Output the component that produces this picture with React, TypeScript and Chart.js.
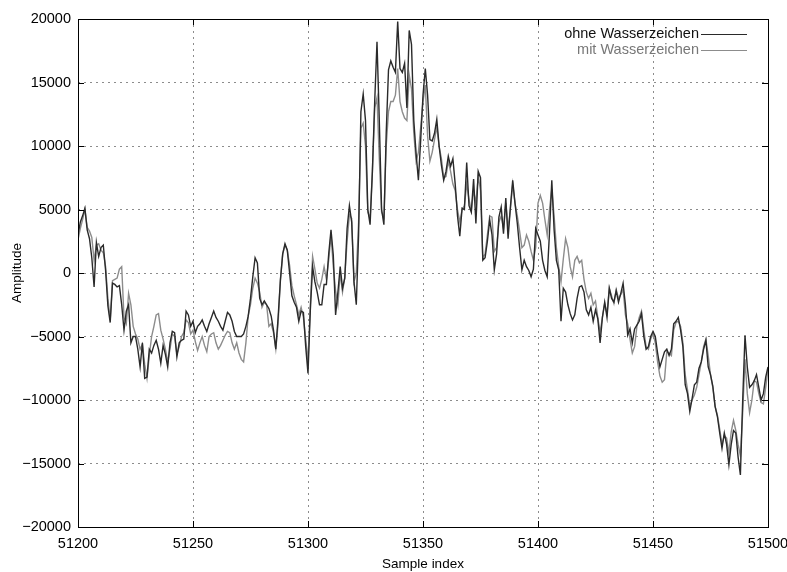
import React, { useEffect, useRef } from "react";
import { Chart, registerables } from "chart.js";

Chart.register(...registerables);

const START_SAMPLE = 51200;

const ohneWasserzeichen = [
  3000, 4000, 4500, 5100, 3400, 2700, 1200, -1100, 2400, 1300,
  2000, 2200, 200, -2600, -3900, -800, -900, -1100, -1000, -2500,
  -4500, -3000, -2500, -5500, -5000, -5000, -6000, -7400, -5500, -8300,
  -8200, -6000, -6300, -5700, -5300, -6000, -7100, -5700, -6400, -7400,
  -5500, -4600, -4700, -6600, -5500, -5300, -5200, -3000, -3300, -4200,
  -3800, -4700, -4200, -4000, -3700, -4200, -4600, -4000, -3500, -3000,
  -3500, -3800, -4200, -4500, -3800, -3100, -3300, -3800, -4600, -5000,
  -5000, -5000, -4800, -4200, -3400, -2000, -300, 1200, 800, -2000,
  -2500, -2200, -2500, -2800, -3400, -4500, -6000, -3500, -600, 1500,
  2300, 1800, 0, -1800, -2300, -2700, -3800, -3000, -3100, -5800,
  -7900, -3000, 500, -700, -1500, -2500, -2500, -900, -900, 1500,
  3400, 1400, -3300, -1500, 500, -1200, -400, 3500, 5300, 4000,
  -700, -2500, 3000, 12700, 14100, 12000, 5000, 3800, 8000, 13500,
  18200, 12000, 5000, 3800, 11000, 16000, 16700, 16200, 15800, 19800,
  16100, 15800, 16500, 13000, 19100, 18000, 12000, 9400, 7300, 10500,
  14000, 16100, 14000, 10500, 10400, 11000, 12100, 10000, 8500, 7300,
  8000, 9200, 8400, 9000, 7000, 4500, 2900, 5100, 5000, 8700,
  5300, 4800, 7400, 3900, 8000, 7500, 1000, 1200, 2500, 4200,
  3000, 250, 1500, 4400, 5200, 3100, 5900, 2700, 5200, 7300,
  5500, 3900, 2000, 250, 1000, 500, 200, -300, 300, 3500,
  3000, 2500, 1000, 200, -300, 3200, 7300, 3400, 1000, 250,
  -3800, -1200, -1500, -2500, -3200, -3700, -3300, -2000, -1100, -1000,
  -1500, -2900, -3300, -2700, -3800, -2900, -3600, -5500, -3500, -2300,
  -3500, -1200, -2000, -2300, -1400, -2300, -1600, -800, -2500, -4900,
  -4400, -5500, -4400, -4100, -3800, -3200, -5000, -6000, -5800, -5000,
  -4600, -5000, -6300, -7400, -6800, -6200, -6000, -6500, -6000, -4000,
  -3800, -3500, -4500, -5800, -8800, -9500, -10900, -9900, -8800, -8600,
  -7500, -7000, -6000, -5300, -7400, -8000, -8900, -10500, -11300, -12600,
  -13800, -12600, -13500, -15100, -13500, -12400, -12600, -14500, -15900, -10000,
  -4900, -7400, -9000, -8800, -8500, -8000, -9000, -10000, -9500, -8200, -7400,
];

const mitWasserzeichen = [
  2600, 3500, 4200, 5000, 3600, 3300, 2800, 1000, 2200, 2300,
  1800, 1600, 500, -2000, -3700, -600, -500, -400, 300, 500,
  -3500, -4000, -1600, -2500, -4200, -4800, -5200, -6000, -5600, -7200,
  -8300, -6500, -5000, -4200, -3300, -3200, -4500, -5200, -6000, -7000,
  -6000, -4800, -5000, -6400, -5800, -5000, -4700, -3700, -3900, -4800,
  -4500, -5400, -6100, -5500, -5000, -5700, -6200, -5000, -4800, -4700,
  -5500, -6000, -5700, -5300, -4900, -4600, -4700, -5500, -6000, -5500,
  -6300, -6800, -7000, -5500, -3400, -2500, -1200, -400, -800, -1500,
  -2700, -2300, -2500, -4200, -4000, -4700, -6000, -4000, -500, 1500,
  2200, 1800, 600, -1000, -1800, -2500, -3300, -2700, -3500, -5200,
  -7000, -2500, 1300, 300, -800, -1200, -500, 500, -500, 1000,
  3000, 500, -1400, -2500, 0, -1500, -300, 2500, 4600, 4300,
  -700, 0, 4000, 11400, 11800, 10000, 4800, 4300, 8000, 13000,
  13800, 9000, 4800, 4400, 10000, 12700, 13500, 13500, 14000, 16100,
  13500, 12700, 12200, 12000, 15600, 14500, 11000, 8800, 9500, 11500,
  13500, 14800, 10800, 8800, 9500, 10500, 11500, 10000, 9000, 7500,
  7600, 8800, 8000, 7000, 6500, 5000, 4000, 5000, 5300, 7000,
  5800, 4900, 6500, 5500, 7600, 6500, 1200, 1500, 3000, 4500,
  4400, 1700, 2000, 4000, 4500, 3500, 5500, 3500, 5000, 7000,
  5500, 4500, 3300, 2000, 2200, 3000, 2500, 1700, 1000, 2000,
  5500, 6100, 5500, 4200, 3000, 5000, 6600, 4500, 2000, 500,
  -700, 1100, 2700, 2000, 500, -300, 1000, 1300, 800, 1000,
  -500, -1500, -2000, -1600, -2500, -2200, -3500, -4700, -3500, -2400,
  -3200, -1200, -1800, -2400, -1300, -2000, -1700, -1300, -3300, -4000,
  -5200, -6300, -5800, -4200, -3500, -3000, -4500, -5800, -6000, -5200,
  -4800, -5500, -7000, -8100, -8600, -8400, -6200, -6300, -6500, -4500,
  -3900, -3800, -4200, -5500, -8000, -9200, -10500, -10000, -9600, -9000,
  -8000, -7000, -5800, -5200, -6500, -8000, -9000, -10500, -11200, -12300,
  -13500, -12800, -13000, -14200, -12500, -11600, -12400, -13500, -14400, -11000,
  -6800, -9500, -11000, -10000, -8500, -8600, -9500, -10200, -10300, -9000, -7600,
];

const seriesNames = ["ohne Wasserzeichen", "mit Wasserzeichen"];
const seriesColors = ["#2a2a2a", "#8c8c8c"];
const xMin = 51200;
const xMax = 51500;
const xStep = 50;
const yMin = -20000;
const yMax = 20000;
const yStep = 5000;

const FONT = '"Liberation Sans", Helvetica, Arial, sans-serif';

function toPoints(values: number[]) {
  return values.map((v, i) => ({ x: START_SAMPLE + i, y: v }));
}

const framePlugin = {
  id: "gnuplotFrame",
  afterDraw(chart: any) {
    const { ctx, chartArea } = chart;
    const { left, right, top, bottom } = chartArea;
    const xs = chart.scales.x;
    const ys = chart.scales.y;
    ctx.save();
    ctx.strokeStyle = "#000";
    ctx.lineWidth = 1;
    ctx.beginPath();
    const tl = 6;
    xs.ticks.forEach((t: any) => {
      const px = Math.round(xs.getPixelForValue(t.value)) + 0.5;
      ctx.moveTo(px, bottom);
      ctx.lineTo(px, bottom - tl);
      ctx.moveTo(px, top);
      ctx.lineTo(px, top + tl);
    });
    ys.ticks.forEach((t: any) => {
      const py = Math.round(ys.getPixelForValue(t.value)) + 0.5;
      ctx.moveTo(left, py);
      ctx.lineTo(left + tl, py);
      ctx.moveTo(right, py);
      ctx.lineTo(right - tl, py);
    });
    ctx.stroke();
    ctx.strokeRect(Math.round(left) + 0.5, Math.round(top) + 0.5, Math.round(right - left), Math.round(bottom - top));

    // legend
    ctx.font = `14.5px ${FONT}`;
    ctx.textAlign = "right";
    ctx.textBaseline = "middle";
    const textRight = right - 69;
    const lineStart = right - 67;
    const lineEnd = right - 21;
    const rows = [top + 15, top + 31];
    const textColors = ["#111", "#777"];
    seriesNames.forEach((name, i) => {
      ctx.fillStyle = textColors[i];
      ctx.fillText(name, textRight, rows[i]);
      ctx.strokeStyle = seriesColors[i];
      ctx.lineWidth = 1.2;
      ctx.beginPath();
      ctx.moveTo(lineStart, rows[i] + 0.5);
      ctx.lineTo(lineEnd, rows[i] + 0.5);
      ctx.stroke();
    });
    ctx.restore();
  },
};

export default function App() {
  const canvasRef = useRef<HTMLCanvasElement | null>(null);

  useEffect(() => {
    const canvas = canvasRef.current;
    if (!canvas) return;
    const chart = new Chart(canvas, {
      type: "line",
      data: {
        datasets: [
          {
            label: seriesNames[0],
            data: toPoints(ohneWasserzeichen),
            borderColor: seriesColors[0],
            borderWidth: 1.4,
            pointRadius: 0,
            tension: 0,
            order: 1,
          },
          {
            label: seriesNames[1],
            data: toPoints(mitWasserzeichen),
            borderColor: seriesColors[1],
            borderWidth: 1.4,
            pointRadius: 0,
            tension: 0,
            order: 2,
          },
        ],
      },
      options: {
        responsive: false,
        animation: false,
        devicePixelRatio: 1,
        layout: { padding: 0 },
        plugins: {
          legend: { display: false },
          tooltip: { enabled: false },
        },
        scales: {
          x: {
            type: "linear",
            min: xMin,
            max: xMax,
            border: { display: false, dash: [2, 4] },
            grid: { color: "#8c8c8c", drawTicks: false, lineWidth: 1 },
            ticks: {
              stepSize: xStep,
              padding: 8,
              color: "#000",
              font: { family: FONT, size: 14.5 },
              maxRotation: 0,
              callback: (v: any) => String(v),
            },
            title: {
              display: true,
              text: "Sample index",
              color: "#000",
              font: { family: FONT, size: 13.5 },
              padding: { top: 0, bottom: 0 },
            },
            afterFit: (s: any) => {
              s.height = 45;
              s.paddingLeft = 0;
              s.paddingRight = 19;
            },
          },
          y: {
            type: "linear",
            min: yMin,
            max: yMax,
            border: { display: false, dash: [2, 4] },
            grid: { color: "#8c8c8c", drawTicks: false, lineWidth: 1 },
            ticks: {
              stepSize: yStep,
              padding: 7,
              color: "#000",
              font: { family: FONT, size: 14.5 },
              callback: (v: any) => (v < 0 ? "\u2212" + String(-v) : String(v)),
            },
            title: {
              display: true,
              text: "Amplitude",
              color: "#000",
              font: { family: FONT, size: 13.5 },
              padding: { top: 9, bottom: 0 },
            },
            afterFit: (s: any) => {
              s.width = 78;
              s.paddingTop = 19;
              s.paddingBottom = 0;
            },
          },
        },
      },
      plugins: [framePlugin],
    });
    return () => chart.destroy();
  }, []);

  return (
    <div style={{ position: "fixed", left: 0, top: 0, width: 787, height: 572, background: "#fff" }}>
      <canvas ref={canvasRef} width={787} height={572} style={{ display: "block" }} />
    </div>
  );
}
